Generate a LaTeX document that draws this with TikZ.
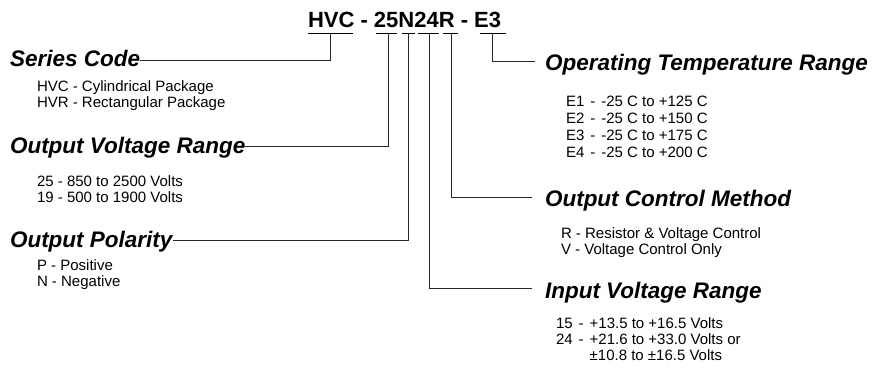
\documentclass[tikz,border=0pt]{standalone}
\usepackage{fontspec}
\setmainfont{Liberation Sans}
\newcommand{\gp}{\hspace{6pt}}
\begin{document}
\begin{tikzpicture}[x=1pt,y=-1pt,
  every node/.style={inner sep=0pt,outer sep=0pt},
  hdr/.style={anchor=base west,font=\fontsize{22}{26}\selectfont\bfseries},
  head/.style={anchor=base west,font=\fontsize{22.5}{26}\selectfont\bfseries\itshape},
  item/.style={anchor=base west,font=\fontsize{15}{17}\selectfont},
  conn/.style={draw=black!85,line width=0.9pt},
  uline/.style={draw=black,line width=1pt}]
\useasboundingbox (0,0) rectangle (873,367);

% header
\node[hdr] (code) at (308,27) {HVC - 25N24R - E3};

% underline segments and their drop points
\coordinate (u1a) at (308,33); \coordinate (u1b) at (353,33); \coordinate (u1) at (330,33);
\coordinate (u2a) at (376,33); \coordinate (u2b) at (397,33); \coordinate (u2) at (388,33);
\coordinate (u3a) at (402,33); \coordinate (u3b) at (415,33); \coordinate (u3) at (408,33);
\coordinate (u4a) at (418,33); \coordinate (u4b) at (439,33); \coordinate (u4) at (429,33);
\coordinate (u5a) at (443,33); \coordinate (u5b) at (458,33); \coordinate (u5) at (451,33);
\coordinate (u6a) at (480,33); \coordinate (u6b) at (506,33); \coordinate (u6) at (492,33);
\foreach \i in {1,...,6} \draw[uline] (u\i a) -- (u\i b);

% left side
\node[head] (sc) at (10,66) {Series Code};
\node[item] (sc1) at (37,91) {HVC - Cylindrical Package};
\node[item] (sc2) at (37,107) {HVR - Rectangular Package};

\node[head] (ovr) at (10,153) {Output Voltage Range};
\node[item] (ovr1) at (37,186) {25 - 850 to 2500 Volts};
\node[item] (ovr2) at (37,202) {19 - 500 to 1900 Volts};

\node[head] (op) at (10,247) {Output Polarity};
\node[item] (op1) at (37,270) {P - Positive};
\node[item] (op2) at (37,286) {N - Negative};

% right side
\node[head] (otr) at (545,70) {Operating Temperature Range};
\node[item] (otr1) at (566,106) {E1\gp-\gp-25 C to +125 C};
\node[item] (otr2) at (566,123) {E2\gp-\gp-25 C to +150 C};
\node[item] (otr3) at (566,140) {E3\gp-\gp-25 C to +175 C};
\node[item] (otr4) at (566,157) {E4\gp-\gp-25 C to +200 C};

\node[head] (ocm) at (545,206) {Output Control Method};
\node[item] (ocm1) at (561,238) {R - Resistor \& Voltage Control};
\node[item] (ocm2) at (561,254) {V - Voltage Control Only};

\node[head] (ivr) at (545,298) {Input Voltage Range};
\node[item] (ivr1) at (556,328) {15\gp-\gp+13.5 to +16.5 Volts};
\node[item] (ivr2) at (556,344) {24\gp-\gp+21.6 to +33.0 Volts or};
\node[item] (ivr3) at (556,360) {\phantom{24\gp-\gp}±10.8 to ±16.5 Volts};

% elbows
\coordinate (j1) at (330,60);
\coordinate (j2) at (388,146);
\coordinate (j3) at (408,240);
\coordinate (j4) at (429,288);
\coordinate (j5) at (451,197);
\coordinate (j6) at (492,61);

\draw[conn] (sc.east |- j1) -- (j1) -- (u1);
\draw[conn] (ovr.east |- j2) -- (j2) -- (u2);
\draw[conn] (op.east |- j3) -- (j3) -- (u3);
\draw[conn] (u4) -- (j4) -- ([xshift=-13pt]ivr.west |- j4);
\draw[conn] (u5) -- (j5) -- ([xshift=-13pt]ocm.west |- j5);
\draw[conn] (u6) -- (j6) -- ([xshift=-10pt]otr.west |- j6);
\end{tikzpicture}
\end{document}
